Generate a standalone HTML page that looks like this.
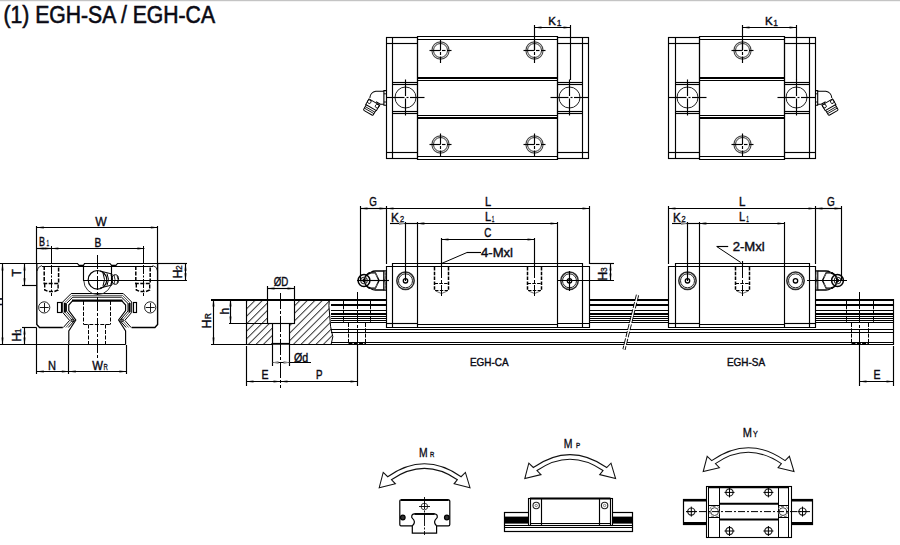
<!DOCTYPE html>
<html><head><meta charset="utf-8"><style>
html,body{margin:0;padding:0;background:#fff;width:900px;height:545px;overflow:hidden}
svg{display:block}
</style></head><body>
<svg width="900" height="545" viewBox="0 0 900 545">
<rect x="0" y="0" width="900" height="1.2" fill="#c4c4c4"/>
<text x="3.5" y="22.9" font-size="23" text-anchor="start" font-family="'Liberation Sans', sans-serif" fill="#0a0a14" stroke="#0a0a14" stroke-width="0.6" textLength="211.5" lengthAdjust="spacingAndGlyphs">(1) EGH-SA / EGH-CA</text>
<line x1="386" y1="37.5" x2="418" y2="37.5" stroke="#000" stroke-width="1.15"/>
<line x1="386" y1="158.5" x2="418" y2="158.5" stroke="#000" stroke-width="1.15"/>
<line x1="386.5" y1="37" x2="386.5" y2="159" stroke="#000" stroke-width="1.15"/>
<line x1="417.5" y1="37" x2="417.5" y2="159" stroke="#000" stroke-width="1.15"/>
<line x1="392.5" y1="37" x2="392.5" y2="159" stroke="#000" stroke-width="1.15"/>
<line x1="386" y1="43.5" x2="417" y2="43.5" stroke="#000" stroke-width="1.15"/>
<line x1="386" y1="152.5" x2="417" y2="152.5" stroke="#000" stroke-width="1.15"/>
<line x1="392" y1="82.5" x2="417" y2="82.5" stroke="#000" stroke-width="1.15"/>
<line x1="392" y1="84.5" x2="417" y2="84.5" stroke="#000" stroke-width="1.15"/>
<line x1="392" y1="111.5" x2="417" y2="111.5" stroke="#000" stroke-width="1.15"/>
<line x1="392" y1="113.5" x2="417" y2="113.5" stroke="#000" stroke-width="1.15"/>
<line x1="557" y1="37.5" x2="589" y2="37.5" stroke="#000" stroke-width="1.15"/>
<line x1="557" y1="158.5" x2="589" y2="158.5" stroke="#000" stroke-width="1.15"/>
<line x1="557.5" y1="37" x2="557.5" y2="159" stroke="#000" stroke-width="1.15"/>
<line x1="588.5" y1="37" x2="588.5" y2="159" stroke="#000" stroke-width="1.15"/>
<line x1="582.5" y1="37" x2="582.5" y2="159" stroke="#000" stroke-width="1.15"/>
<line x1="557" y1="43.5" x2="588" y2="43.5" stroke="#000" stroke-width="1.15"/>
<line x1="557" y1="152.5" x2="588" y2="152.5" stroke="#000" stroke-width="1.15"/>
<line x1="557" y1="82.5" x2="582" y2="82.5" stroke="#000" stroke-width="1.15"/>
<line x1="557" y1="84.5" x2="582" y2="84.5" stroke="#000" stroke-width="1.15"/>
<line x1="557" y1="111.5" x2="582" y2="111.5" stroke="#000" stroke-width="1.15"/>
<line x1="557" y1="113.5" x2="582" y2="113.5" stroke="#000" stroke-width="1.15"/>
<line x1="417" y1="36.5" x2="558" y2="36.5" stroke="#000" stroke-width="1.15"/>
<line x1="417" y1="159.5" x2="558" y2="159.5" stroke="#000" stroke-width="1.15"/>
<line x1="417.5" y1="36" x2="417.5" y2="160" stroke="#000" stroke-width="1.15"/>
<line x1="557.5" y1="36" x2="557.5" y2="160" stroke="#000" stroke-width="1.15"/>
<line x1="417" y1="39.5" x2="557" y2="39.5" stroke="#000" stroke-width="1.15"/>
<line x1="417" y1="156.5" x2="557" y2="156.5" stroke="#000" stroke-width="1.15"/>
<line x1="417" y1="78" x2="557" y2="78" stroke="#000" stroke-width="2.0"/>
<line x1="417" y1="80.5" x2="557" y2="80.5" stroke="#000" stroke-width="1.15"/>
<line x1="417" y1="115.5" x2="557" y2="115.5" stroke="#000" stroke-width="1.15"/>
<line x1="417" y1="118" x2="557" y2="118" stroke="#000" stroke-width="2.0"/>
<circle cx="440.5" cy="50.5" r="8.6" fill="none" stroke="#444" stroke-width="1.1"/>
<circle cx="440.5" cy="50.5" r="7" fill="none" stroke="#333" stroke-width="1.0"/>
<line x1="429.5" y1="50.5" x2="440.5" y2="50.5" stroke="#000" stroke-width="1.15"/>
<line x1="442" y1="50.5" x2="445.5" y2="50.5" stroke="#000" stroke-width="1.15"/>
<line x1="447" y1="50.5" x2="451.5" y2="50.5" stroke="#000" stroke-width="1.15"/>
<line x1="440.5" y1="39.5" x2="440.5" y2="50.5" stroke="#000" stroke-width="1.15"/>
<line x1="440.5" y1="52" x2="440.5" y2="55" stroke="#000" stroke-width="1.15"/>
<line x1="440.5" y1="56.5" x2="440.5" y2="63" stroke="#000" stroke-width="1.15"/>
<circle cx="440.5" cy="144.5" r="8.6" fill="none" stroke="#444" stroke-width="1.1"/>
<circle cx="440.5" cy="144.5" r="7" fill="none" stroke="#333" stroke-width="1.0"/>
<line x1="429.5" y1="144.5" x2="440.5" y2="144.5" stroke="#000" stroke-width="1.15"/>
<line x1="442" y1="144.5" x2="445.5" y2="144.5" stroke="#000" stroke-width="1.15"/>
<line x1="447" y1="144.5" x2="451.5" y2="144.5" stroke="#000" stroke-width="1.15"/>
<line x1="440.5" y1="133.5" x2="440.5" y2="144.5" stroke="#000" stroke-width="1.15"/>
<line x1="440.5" y1="146" x2="440.5" y2="149" stroke="#000" stroke-width="1.15"/>
<line x1="440.5" y1="150.5" x2="440.5" y2="157" stroke="#000" stroke-width="1.15"/>
<circle cx="534.5" cy="50.5" r="8.6" fill="none" stroke="#444" stroke-width="1.1"/>
<circle cx="534.5" cy="50.5" r="7" fill="none" stroke="#333" stroke-width="1.0"/>
<line x1="523.5" y1="50.5" x2="534.5" y2="50.5" stroke="#000" stroke-width="1.15"/>
<line x1="536" y1="50.5" x2="539.5" y2="50.5" stroke="#000" stroke-width="1.15"/>
<line x1="541" y1="50.5" x2="545.5" y2="50.5" stroke="#000" stroke-width="1.15"/>
<line x1="534.5" y1="39.5" x2="534.5" y2="50.5" stroke="#000" stroke-width="1.15"/>
<line x1="534.5" y1="52" x2="534.5" y2="55" stroke="#000" stroke-width="1.15"/>
<line x1="534.5" y1="56.5" x2="534.5" y2="63" stroke="#000" stroke-width="1.15"/>
<circle cx="534.5" cy="144.5" r="8.6" fill="none" stroke="#444" stroke-width="1.1"/>
<circle cx="534.5" cy="144.5" r="7" fill="none" stroke="#333" stroke-width="1.0"/>
<line x1="523.5" y1="144.5" x2="534.5" y2="144.5" stroke="#000" stroke-width="1.15"/>
<line x1="536" y1="144.5" x2="539.5" y2="144.5" stroke="#000" stroke-width="1.15"/>
<line x1="541" y1="144.5" x2="545.5" y2="144.5" stroke="#000" stroke-width="1.15"/>
<line x1="534.5" y1="133.5" x2="534.5" y2="144.5" stroke="#000" stroke-width="1.15"/>
<line x1="534.5" y1="146" x2="534.5" y2="149" stroke="#000" stroke-width="1.15"/>
<line x1="534.5" y1="150.5" x2="534.5" y2="157" stroke="#000" stroke-width="1.15"/>
<circle cx="405.5" cy="97.5" r="10.5" fill="none" stroke="#222" stroke-width="1.0"/>
<line x1="386.5" y1="97.5" x2="404.5" y2="97.5" stroke="#000" stroke-width="1.15"/>
<line x1="406.5" y1="97.5" x2="408.5" y2="97.5" stroke="#000" stroke-width="1.15"/>
<line x1="410" y1="97.5" x2="424.5" y2="97.5" stroke="#000" stroke-width="1.15"/>
<line x1="405.5" y1="79.5" x2="405.5" y2="96" stroke="#000" stroke-width="1.15"/>
<line x1="405.5" y1="98.5" x2="405.5" y2="115.5" stroke="#000" stroke-width="1.15"/>
<circle cx="569.5" cy="97.5" r="10.5" fill="none" stroke="#222" stroke-width="1.0"/>
<line x1="550.5" y1="97.5" x2="568.5" y2="97.5" stroke="#000" stroke-width="1.15"/>
<line x1="570.5" y1="97.5" x2="572.5" y2="97.5" stroke="#000" stroke-width="1.15"/>
<line x1="574" y1="97.5" x2="588.5" y2="97.5" stroke="#000" stroke-width="1.15"/>
<line x1="569.5" y1="79.5" x2="569.5" y2="96" stroke="#000" stroke-width="1.15"/>
<line x1="569.5" y1="98.5" x2="569.5" y2="115.5" stroke="#000" stroke-width="1.15"/>
<line x1="668" y1="37.5" x2="700" y2="37.5" stroke="#000" stroke-width="1.15"/>
<line x1="668" y1="158.5" x2="700" y2="158.5" stroke="#000" stroke-width="1.15"/>
<line x1="668.5" y1="37" x2="668.5" y2="159" stroke="#000" stroke-width="1.15"/>
<line x1="699.5" y1="37" x2="699.5" y2="159" stroke="#000" stroke-width="1.15"/>
<line x1="675.5" y1="37" x2="675.5" y2="159" stroke="#000" stroke-width="1.15"/>
<line x1="668" y1="43.5" x2="699" y2="43.5" stroke="#000" stroke-width="1.15"/>
<line x1="668" y1="152.5" x2="699" y2="152.5" stroke="#000" stroke-width="1.15"/>
<line x1="675" y1="82.5" x2="699" y2="82.5" stroke="#000" stroke-width="1.15"/>
<line x1="675" y1="84.5" x2="699" y2="84.5" stroke="#000" stroke-width="1.15"/>
<line x1="675" y1="111.5" x2="699" y2="111.5" stroke="#000" stroke-width="1.15"/>
<line x1="675" y1="113.5" x2="699" y2="113.5" stroke="#000" stroke-width="1.15"/>
<line x1="784" y1="37.5" x2="816" y2="37.5" stroke="#000" stroke-width="1.15"/>
<line x1="784" y1="158.5" x2="816" y2="158.5" stroke="#000" stroke-width="1.15"/>
<line x1="784.5" y1="37" x2="784.5" y2="159" stroke="#000" stroke-width="1.15"/>
<line x1="815.5" y1="37" x2="815.5" y2="159" stroke="#000" stroke-width="1.15"/>
<line x1="809.5" y1="37" x2="809.5" y2="159" stroke="#000" stroke-width="1.15"/>
<line x1="784" y1="43.5" x2="815" y2="43.5" stroke="#000" stroke-width="1.15"/>
<line x1="784" y1="152.5" x2="815" y2="152.5" stroke="#000" stroke-width="1.15"/>
<line x1="784" y1="82.5" x2="809" y2="82.5" stroke="#000" stroke-width="1.15"/>
<line x1="784" y1="84.5" x2="809" y2="84.5" stroke="#000" stroke-width="1.15"/>
<line x1="784" y1="111.5" x2="809" y2="111.5" stroke="#000" stroke-width="1.15"/>
<line x1="784" y1="113.5" x2="809" y2="113.5" stroke="#000" stroke-width="1.15"/>
<line x1="699" y1="36.5" x2="785" y2="36.5" stroke="#000" stroke-width="1.15"/>
<line x1="699" y1="159.5" x2="785" y2="159.5" stroke="#000" stroke-width="1.15"/>
<line x1="699.5" y1="36" x2="699.5" y2="160" stroke="#000" stroke-width="1.15"/>
<line x1="784.5" y1="36" x2="784.5" y2="160" stroke="#000" stroke-width="1.15"/>
<line x1="699" y1="39.5" x2="784" y2="39.5" stroke="#000" stroke-width="1.15"/>
<line x1="699" y1="156.5" x2="784" y2="156.5" stroke="#000" stroke-width="1.15"/>
<line x1="699" y1="78" x2="784" y2="78" stroke="#000" stroke-width="2.0"/>
<line x1="699" y1="80.5" x2="784" y2="80.5" stroke="#000" stroke-width="1.15"/>
<line x1="699" y1="115.5" x2="784" y2="115.5" stroke="#000" stroke-width="1.15"/>
<line x1="699" y1="118" x2="784" y2="118" stroke="#000" stroke-width="2.0"/>
<circle cx="742.5" cy="50.5" r="8.6" fill="none" stroke="#444" stroke-width="1.1"/>
<circle cx="742.5" cy="50.5" r="7" fill="none" stroke="#333" stroke-width="1.0"/>
<line x1="731.5" y1="50.5" x2="742.5" y2="50.5" stroke="#000" stroke-width="1.15"/>
<line x1="744" y1="50.5" x2="747.5" y2="50.5" stroke="#000" stroke-width="1.15"/>
<line x1="749" y1="50.5" x2="753.5" y2="50.5" stroke="#000" stroke-width="1.15"/>
<line x1="742.5" y1="39.5" x2="742.5" y2="50.5" stroke="#000" stroke-width="1.15"/>
<line x1="742.5" y1="52" x2="742.5" y2="55" stroke="#000" stroke-width="1.15"/>
<line x1="742.5" y1="56.5" x2="742.5" y2="63" stroke="#000" stroke-width="1.15"/>
<circle cx="742.5" cy="144.5" r="8.6" fill="none" stroke="#444" stroke-width="1.1"/>
<circle cx="742.5" cy="144.5" r="7" fill="none" stroke="#333" stroke-width="1.0"/>
<line x1="731.5" y1="144.5" x2="742.5" y2="144.5" stroke="#000" stroke-width="1.15"/>
<line x1="744" y1="144.5" x2="747.5" y2="144.5" stroke="#000" stroke-width="1.15"/>
<line x1="749" y1="144.5" x2="753.5" y2="144.5" stroke="#000" stroke-width="1.15"/>
<line x1="742.5" y1="133.5" x2="742.5" y2="144.5" stroke="#000" stroke-width="1.15"/>
<line x1="742.5" y1="146" x2="742.5" y2="149" stroke="#000" stroke-width="1.15"/>
<line x1="742.5" y1="150.5" x2="742.5" y2="157" stroke="#000" stroke-width="1.15"/>
<circle cx="687.5" cy="97.5" r="10.5" fill="none" stroke="#222" stroke-width="1.0"/>
<line x1="668.5" y1="97.5" x2="686.5" y2="97.5" stroke="#000" stroke-width="1.15"/>
<line x1="688.5" y1="97.5" x2="690.5" y2="97.5" stroke="#000" stroke-width="1.15"/>
<line x1="692" y1="97.5" x2="706.5" y2="97.5" stroke="#000" stroke-width="1.15"/>
<line x1="687.5" y1="79.5" x2="687.5" y2="96" stroke="#000" stroke-width="1.15"/>
<line x1="687.5" y1="98.5" x2="687.5" y2="115.5" stroke="#000" stroke-width="1.15"/>
<circle cx="796.5" cy="97.5" r="10.5" fill="none" stroke="#222" stroke-width="1.0"/>
<line x1="777.5" y1="97.5" x2="795.5" y2="97.5" stroke="#000" stroke-width="1.15"/>
<line x1="797.5" y1="97.5" x2="799.5" y2="97.5" stroke="#000" stroke-width="1.15"/>
<line x1="801" y1="97.5" x2="815.5" y2="97.5" stroke="#000" stroke-width="1.15"/>
<line x1="796.5" y1="79.5" x2="796.5" y2="96" stroke="#000" stroke-width="1.15"/>
<line x1="796.5" y1="98.5" x2="796.5" y2="115.5" stroke="#000" stroke-width="1.15"/>
<g transform="translate(386,97.5) scale(-1,1)">
<path d="M 0 -6.9 H 2.1 V 7.8 H 0" fill="none" stroke="#000" stroke-width="1.1" />
<path d="M 0 -3.7 H 2.1 M 0 4.5 H 2.1" fill="none" stroke="#000" stroke-width="0.9" />
<path d="M 2.1 -6.2 H 10.2 A 7 7 0 0 1 16.2 0.4" fill="none" stroke="#000" stroke-width="1.1" />
<path d="M 2.1 6.7 H 5.6 L 10 4.2" fill="none" stroke="#000" stroke-width="1.1" />
<g transform="translate(13.3,7.3) rotate(-30) scale(0.88)">
<path d="M -7 -3.7 H 7 V 3.7 H -7 Z" fill="none" stroke="#000" stroke-width="1.1" />
<circle cx="-5.2" cy="-1.2" r="2.1" fill="none" stroke="#000" stroke-width="1.0"/>
<circle cx="5.2" cy="-1.2" r="2.1" fill="none" stroke="#000" stroke-width="1.0"/>
<path d="M -6.3 3.7 V 9.5 Q -6.3 10.5 -5 10.5 H 5 Q 6.3 10.5 6.3 9.5 V 3.7" fill="none" stroke="#000" stroke-width="1.1" />
<path d="M -6.3 6 H 6.3 M -6.3 8 H 6.3" fill="none" stroke="#000" stroke-width="0.9" />
</g></g>
<g transform="translate(815.6,97.5) scale(1,1)">
<path d="M 0 -6.9 H 2.1 V 7.8 H 0" fill="none" stroke="#000" stroke-width="1.1" />
<path d="M 0 -3.7 H 2.1 M 0 4.5 H 2.1" fill="none" stroke="#000" stroke-width="0.9" />
<path d="M 2.1 -6.2 H 10.2 A 7 7 0 0 1 16.2 0.4" fill="none" stroke="#000" stroke-width="1.1" />
<path d="M 2.1 6.7 H 5.6 L 10 4.2" fill="none" stroke="#000" stroke-width="1.1" />
<g transform="translate(13.3,7.3) rotate(-30) scale(0.88)">
<path d="M -7 -3.7 H 7 V 3.7 H -7 Z" fill="none" stroke="#000" stroke-width="1.1" />
<circle cx="-5.2" cy="-1.2" r="2.1" fill="none" stroke="#000" stroke-width="1.0"/>
<circle cx="5.2" cy="-1.2" r="2.1" fill="none" stroke="#000" stroke-width="1.0"/>
<path d="M -6.3 3.7 V 9.5 Q -6.3 10.5 -5 10.5 H 5 Q 6.3 10.5 6.3 9.5 V 3.7" fill="none" stroke="#000" stroke-width="1.1" />
<path d="M -6.3 6 H 6.3 M -6.3 8 H 6.3" fill="none" stroke="#000" stroke-width="0.9" />
</g></g>
<polygon points="535,27.5 541.5,26 541.5,29" fill="#8c8c8c"/>
<polygon points="570,27.5 563.5,29 563.5,26" fill="#8c8c8c"/>
<line x1="534.5" y1="27.5" x2="570.5" y2="27.5" stroke="#000" stroke-width="1.15"/>
<line x1="534.5" y1="25" x2="534.5" y2="50" stroke="#000" stroke-width="1.15"/>
<line x1="570.5" y1="25" x2="570.5" y2="80" stroke="#000" stroke-width="1.15"/>
<text x="548.2" y="25.3" font-size="11.5" text-anchor="start" font-family="'Liberation Sans', sans-serif" fill="#0a0a14" stroke="#0a0a14" stroke-width="0.4">K</text>
<text x="556.8" y="26.3" font-size="8.5" text-anchor="start" font-family="'Liberation Sans', sans-serif" fill="#0a0a14" stroke="#0a0a14" stroke-width="0.3">1</text>
<polygon points="743,27.5 749.5,26 749.5,29" fill="#8c8c8c"/>
<polygon points="796,27.5 789.5,29 789.5,26" fill="#8c8c8c"/>
<line x1="742.5" y1="27.5" x2="796.5" y2="27.5" stroke="#000" stroke-width="1.15"/>
<line x1="742.5" y1="25" x2="742.5" y2="50" stroke="#000" stroke-width="1.15"/>
<line x1="796.5" y1="25" x2="796.5" y2="80" stroke="#000" stroke-width="1.15"/>
<text x="765" y="25.3" font-size="11.5" text-anchor="start" font-family="'Liberation Sans', sans-serif" fill="#0a0a14" stroke="#0a0a14" stroke-width="0.4">K</text>
<text x="773.3" y="26.3" font-size="8.5" text-anchor="start" font-family="'Liberation Sans', sans-serif" fill="#0a0a14" stroke="#0a0a14" stroke-width="0.3">1</text>
<polyline points="0,263.5 77.5,263.5 79,265.3 83.5,265.3 84.5,263.5 110,263.5 111.5,265.3 116,265.3 117.5,263.5 158,263.5" fill="none" stroke="#000" stroke-width="1.15" />
<line x1="42" y1="266.5" x2="153" y2="266.5" stroke="#000" stroke-width="1.15"/>
<path d="M 37 271 Q 37.5 266.5 42 265.5" fill="none" stroke="#333" stroke-width="1.0" />
<path d="M 157.6 271 Q 157.1 266.5 152.6 265.5" fill="none" stroke="#333" stroke-width="1.0" />
<polyline points="62.8,327.5 39.5,327.5 36.8,324.5 36.8,263.5" fill="none" stroke="#000" stroke-width="1.4" />
<polyline points="131.6,327.5 154.9,327.5 157.6,324.5 157.6,263.5" fill="none" stroke="#000" stroke-width="1.4" />
<polyline points="63.3,327.5 69.6,320.4 62.7,312.4 62.7,302 71.2,293.5 97.2,293.5" fill="none" stroke="#000" stroke-width="1.0" />
<polyline points="131.1,327.5 124.8,320.4 131.7,312.4 131.7,302 123.2,293.5 97.2,293.5" fill="none" stroke="#000" stroke-width="1.0" />
<polyline points="65.84,327.5 72.12,320.42 64.6,311.69 64.6,302.79 71.99,295.4 97.2,295.4" fill="none" stroke="#333" stroke-width="0.8" />
<polyline points="128.56,327.5 122.28,320.42 129.8,311.69 129.8,302.79 122.41,295.4 97.2,295.4" fill="none" stroke="#333" stroke-width="0.8" />
<polyline points="68.25,327.5 74.52,320.43 66.4,311.02 66.4,303.53 72.73,297.2 97.2,297.2" fill="none" stroke="#000" stroke-width="1.0" />
<polyline points="126.15,327.5 119.88,320.43 128,311.02 128,303.53 121.67,297.2 97.2,297.2" fill="none" stroke="#000" stroke-width="1.0" />
<line x1="64.9" y1="303" x2="64.9" y2="312.5" stroke="#000" stroke-width="2.0"/>
<line x1="129.5" y1="303" x2="129.5" y2="312.5" stroke="#000" stroke-width="2.0"/>
<circle cx="72.2" cy="320.3" r="1.2" fill="none" stroke="#000" stroke-width="1.0"/>
<circle cx="122.2" cy="320.3" r="1.2" fill="none" stroke="#000" stroke-width="1.0"/>
<rect x="57.5" y="302.5" width="4" height="10" fill="none" stroke="#000" stroke-width="1.15"/>
<rect x="133.5" y="302.5" width="3" height="10" fill="none" stroke="#000" stroke-width="1.15"/>
<circle cx="44.2" cy="307.4" r="5.6" fill="none" stroke="#222" stroke-width="1.0"/>
<line x1="39.7" y1="307.5" x2="48.7" y2="307.5" stroke="#000" stroke-width="0.9"/>
<line x1="44.5" y1="303" x2="44.5" y2="312" stroke="#000" stroke-width="0.9"/>
<circle cx="150.2" cy="307.4" r="5.6" fill="none" stroke="#222" stroke-width="1.0"/>
<line x1="145.7" y1="307.5" x2="154.7" y2="307.5" stroke="#000" stroke-width="0.9"/>
<line x1="150.5" y1="303" x2="150.5" y2="312" stroke="#000" stroke-width="0.9"/>
<polyline points="68.8,344.5 68.8,331 71,327.5 75.8,320 68.8,310.5 68.8,305 72.5,300.8 97.2,300.8" fill="none" stroke="#000" stroke-width="1.15" />
<polyline points="125.6,344.5 125.6,331 123.4,327.5 118.6,320 125.6,310.5 125.6,305 121.9,300.8 97.2,300.8" fill="none" stroke="#000" stroke-width="1.15" />
<line x1="72" y1="300.6" x2="122.4" y2="300.6" stroke="#000" stroke-width="2.0"/>
<line x1="68.8" y1="344.5" x2="125.6" y2="344.5" stroke="#000" stroke-width="1.15"/>
<line x1="83.5" y1="301" x2="83.5" y2="324.5" stroke="#000" stroke-width="1.0" stroke-dasharray="4,1.5"/>
<line x1="110.5" y1="301" x2="110.5" y2="324.5" stroke="#000" stroke-width="1.0" stroke-dasharray="4,1.5"/>
<line x1="83.8" y1="324.5" x2="110.6" y2="324.5" stroke="#000" stroke-width="1.0" stroke-dasharray="4,1.5"/>
<line x1="88.5" y1="324.5" x2="88.5" y2="344" stroke="#000" stroke-width="1.0" stroke-dasharray="4,1.5"/>
<line x1="105.5" y1="324.5" x2="105.5" y2="344" stroke="#000" stroke-width="1.0" stroke-dasharray="4,1.5"/>
<polyline points="44.2,266 44.2,283.5 58.6,283.5 58.6,266" fill="none" stroke="#000" stroke-width="1.5" stroke-dasharray="4,1.5" />
<polyline points="44.7,283.5 44.7,290 48.4,291.5 54.4,291.5 58.1,290 58.1,283.5" fill="none" stroke="#000" stroke-width="1.4" stroke-dasharray="4,1.5" />
<line x1="51.5" y1="246" x2="51.5" y2="264" stroke="#000" stroke-width="1.0"/>
<line x1="51.5" y1="265" x2="51.5" y2="296" stroke="#000" stroke-width="1.0" stroke-dasharray="9,1.5,2,1.5"/>
<polyline points="135.8,266 135.8,283.5 150.2,283.5 150.2,266" fill="none" stroke="#000" stroke-width="1.5" stroke-dasharray="4,1.5" />
<polyline points="136.3,283.5 136.3,290 140,291.5 146,291.5 149.7,290 149.7,283.5" fill="none" stroke="#000" stroke-width="1.4" stroke-dasharray="4,1.5" />
<line x1="143.5" y1="246" x2="143.5" y2="264" stroke="#000" stroke-width="1.0"/>
<line x1="143.5" y1="265" x2="143.5" y2="296" stroke="#000" stroke-width="1.0" stroke-dasharray="9,1.5,2,1.5"/>
<line x1="83.5" y1="266" x2="83.5" y2="280.5" stroke="#000" stroke-width="1.15"/>
<line x1="111.5" y1="266" x2="111.5" y2="280.5" stroke="#000" stroke-width="1.15"/>
<path d="M 83.8 280.5 A 14 14 0 0 0 111.8 280.5" fill="none" stroke="#333" stroke-width="1.0" />
<circle cx="97.5" cy="279.8" r="9.3" fill="none" stroke="#000" stroke-width="1.2"/>
<path d="M 103 273 Q 106 279.5 103 286 M 107 273.5 Q 110 279.5 107 285.5 M 111 274.5 Q 113.5 279.5 111 284.5" fill="none" stroke="#000" stroke-width="1.0" />
<path d="M 100 271 L 112 274 L 112 285 L 100 288" fill="none" stroke="#000" stroke-width="1.0" />
<ellipse cx="115.3" cy="279.5" rx="3.3" ry="4.8" fill="none" stroke="#000" stroke-width="1"/>
<path d="M 114 275 Q 116 279.5 114 284 M 117 275.5 Q 119 279.5 117 283.5" fill="none" stroke="#000" stroke-width="0.8" />
<line x1="97.5" y1="255" x2="97.5" y2="360" stroke="#000" stroke-width="1.0" stroke-dasharray="14,2,3,2"/>
<polygon points="37.3,227.5 43.8,226 43.8,229" fill="#8c8c8c"/>
<polygon points="157.3,227.5 150.8,229 150.8,226" fill="#8c8c8c"/>
<line x1="36.8" y1="227.5" x2="157.8" y2="227.5" stroke="#000" stroke-width="1.15"/>
<line x1="36.5" y1="226" x2="36.5" y2="264" stroke="#000" stroke-width="1.15"/>
<line x1="157.5" y1="226" x2="157.5" y2="264" stroke="#000" stroke-width="1.15"/>
<text x="101" y="225.9" font-size="12.5" text-anchor="middle" font-family="'Liberation Sans', sans-serif" fill="#0a0a14" stroke="#0a0a14" stroke-width="0.35" textLength="11.5" lengthAdjust="spacingAndGlyphs">W</text>
<polygon points="51.9,248.5 58.4,247 58.4,250" fill="#8c8c8c"/>
<polygon points="143.9,248.5 137.4,250 137.4,247" fill="#8c8c8c"/>
<line x1="51.4" y1="248.5" x2="144.4" y2="248.5" stroke="#000" stroke-width="1.15"/>
<text x="98" y="247.1" font-size="12" text-anchor="middle" font-family="'Liberation Sans', sans-serif" fill="#0a0a14" stroke="#0a0a14" stroke-width="0.35" textLength="6.8" lengthAdjust="spacingAndGlyphs">B</text>
<polygon points="37.3,248.5 43.8,247 43.8,250" fill="#8c8c8c"/>
<polygon points="50.9,248.5 44.4,250 44.4,247" fill="#8c8c8c"/>
<line x1="36.8" y1="248.5" x2="51.4" y2="248.5" stroke="#000" stroke-width="1.15"/>
<text x="39" y="246" font-size="12" text-anchor="start" font-family="'Liberation Sans', sans-serif" fill="#0a0a14" stroke="#0a0a14" stroke-width="0.4" textLength="6" lengthAdjust="spacingAndGlyphs">B</text>
<text x="46.5" y="246" font-size="8.5" text-anchor="start" font-family="'Liberation Sans', sans-serif" fill="#0a0a14" stroke="#0a0a14" stroke-width="0.3" textLength="2.6" lengthAdjust="spacingAndGlyphs">1</text>
<polygon points="24.5,264 26,270.5 23,270.5" fill="#8c8c8c"/>
<polygon points="24.5,284.8 23,278.3 26,278.3" fill="#8c8c8c"/>
<line x1="24.5" y1="263.5" x2="24.5" y2="285.3" stroke="#000" stroke-width="1.15"/>
<line x1="0" y1="263.5" x2="36.8" y2="263.5" stroke="#000" stroke-width="1.15"/>
<line x1="22" y1="285.5" x2="36.8" y2="285.5" stroke="#000" stroke-width="1.15"/>
<text x="20.6" y="276.5" font-size="12" text-anchor="start" font-family="'Liberation Sans', sans-serif" fill="#0a0a14" stroke="#0a0a14" stroke-width="0.4" transform="rotate(-90 20.6 276.5)">T</text>
<polygon points="24.5,328 26,334.5 23,334.5" fill="#8c8c8c"/>
<polygon points="24.5,344 23,337.5 26,337.5" fill="#8c8c8c"/>
<line x1="24.5" y1="327.5" x2="24.5" y2="344.5" stroke="#000" stroke-width="1.15"/>
<line x1="22" y1="327.5" x2="36.8" y2="327.5" stroke="#000" stroke-width="1.15"/>
<line x1="0" y1="344.5" x2="68.8" y2="344.5" stroke="#000" stroke-width="1.15"/>
<text x="21" y="341.5" font-size="12" text-anchor="start" font-family="'Liberation Sans', sans-serif" fill="#0a0a14" stroke="#0a0a14" stroke-width="0.4" transform="rotate(-90 21 341.5)">H</text>
<text x="21" y="333.3" font-size="8.5" text-anchor="start" font-family="'Liberation Sans', sans-serif" fill="#0a0a14" stroke="#0a0a14" stroke-width="0.3" transform="rotate(-90 21 333.3)">1</text>
<polygon points="2.5,264 4,270.5 1,270.5" fill="#8c8c8c"/>
<polygon points="2.5,344 1,337.5 4,337.5" fill="#8c8c8c"/>
<line x1="2.5" y1="263.5" x2="2.5" y2="344.5" stroke="#000" stroke-width="1.15"/>
<text x="2.2" y="306" font-size="12" text-anchor="start" font-family="'Liberation Sans', sans-serif" fill="#0a0a14" stroke="#0a0a14" stroke-width="0.4" transform="rotate(-90 2.2 306)">H</text>
<polygon points="185.5,264.3 187,270.8 184,270.8" fill="#8c8c8c"/>
<polygon points="185.5,279.8 184,273.3 187,273.3" fill="#8c8c8c"/>
<line x1="185.5" y1="263.8" x2="185.5" y2="280.3" stroke="#000" stroke-width="1.15"/>
<line x1="157.8" y1="263.5" x2="187" y2="263.5" stroke="#000" stroke-width="1.15"/>
<line x1="83" y1="280.5" x2="187" y2="280.5" stroke="#000" stroke-width="1.15"/>
<text x="181.8" y="278.2" font-size="12" text-anchor="start" font-family="'Liberation Sans', sans-serif" fill="#0a0a14" stroke="#0a0a14" stroke-width="0.4" transform="rotate(-90 181.8 278.2)">H</text>
<text x="181.8" y="270" font-size="8.5" text-anchor="start" font-family="'Liberation Sans', sans-serif" fill="#0a0a14" stroke="#0a0a14" stroke-width="0.3" transform="rotate(-90 181.8 270)">2</text>
<line x1="36.5" y1="328" x2="36.5" y2="374" stroke="#000" stroke-width="1.15"/>
<line x1="68.5" y1="345" x2="68.5" y2="374" stroke="#000" stroke-width="1.15"/>
<line x1="126.5" y1="345" x2="126.5" y2="374" stroke="#000" stroke-width="1.15"/>
<polygon points="37.3,371.5 43.8,370 43.8,373" fill="#8c8c8c"/>
<polygon points="68.3,371.5 61.8,373 61.8,370" fill="#8c8c8c"/>
<line x1="36.8" y1="371.5" x2="68.8" y2="371.5" stroke="#000" stroke-width="1.15"/>
<polygon points="69.3,371.5 75.8,370 75.8,373" fill="#8c8c8c"/>
<polygon points="125.9,371.5 119.4,373 119.4,370" fill="#8c8c8c"/>
<line x1="68.8" y1="371.5" x2="126.4" y2="371.5" stroke="#000" stroke-width="1.15"/>
<text x="52" y="370" font-size="12" text-anchor="middle" font-family="'Liberation Sans', sans-serif" fill="#0a0a14" stroke="#0a0a14" stroke-width="0.35" textLength="8" lengthAdjust="spacingAndGlyphs">N</text>
<text x="92.2" y="370" font-size="12" text-anchor="start" font-family="'Liberation Sans', sans-serif" fill="#0a0a14" stroke="#0a0a14" stroke-width="0.4" textLength="10.7" lengthAdjust="spacingAndGlyphs">W</text>
<text x="103.4" y="370" font-size="8.5" text-anchor="start" font-family="'Liberation Sans', sans-serif" fill="#0a0a14" stroke="#0a0a14" stroke-width="0.3" textLength="4.3" lengthAdjust="spacingAndGlyphs">R</text>
<defs><pattern id="hatch" patternUnits="userSpaceOnUse" width="5.3" height="5.3" patternTransform="rotate(45)"><line x1="0.5" y1="0" x2="0.5" y2="5.3" stroke="#333" stroke-width="1.0"/></pattern>
<clipPath id="secclip"><path d="M 246.5 299.5 H 267.5 V 323.5 H 272.5 V 344.5 H 246.5 Z M 289.5 344.5 V 323.5 H 294.5 V 299.5 H 329.4 L 328.9 305.6 L 330.6 326.7 L 332.8 336.7 L 331.1 344.5 Z"/></clipPath></defs>
<rect x="240" y="295" width="100" height="55" fill="url(#hatch)" clip-path="url(#secclip)"/>
<path d="M 329.4 299.5 L 328.9 305.6 L 330.6 326.7 L 332.8 336.7 L 331.1 344.5" fill="none" stroke="#000" stroke-width="1.0" />
<line x1="246.5" y1="299" x2="246.5" y2="345" stroke="#000" stroke-width="1.15"/>
<line x1="267.5" y1="299" x2="267.5" y2="324" stroke="#000" stroke-width="1.15"/>
<line x1="294.5" y1="299" x2="294.5" y2="324" stroke="#000" stroke-width="1.15"/>
<line x1="267" y1="323.5" x2="295" y2="323.5" stroke="#000" stroke-width="1.15"/>
<line x1="211" y1="300" x2="331" y2="300" stroke="#000" stroke-width="1.9"/>
<line x1="272.5" y1="343.8" x2="289.5" y2="343.8" stroke="#000" stroke-width="1.8"/>
<line x1="289" y1="344.5" x2="331" y2="344.5" stroke="#000" stroke-width="1.15"/>
<line x1="272.5" y1="323" x2="272.5" y2="345" stroke="#000" stroke-width="1.15"/>
<line x1="289.5" y1="323" x2="289.5" y2="345" stroke="#000" stroke-width="1.15"/>
<line x1="211" y1="299.5" x2="246.5" y2="299.5" stroke="#000" stroke-width="1.15"/>
<line x1="211" y1="344.5" x2="272.5" y2="344.5" stroke="#000" stroke-width="1.15"/>
<polygon points="213.5,300 215,306.5 212,306.5" fill="#8c8c8c"/>
<polygon points="213.5,344 212,337.5 215,337.5" fill="#8c8c8c"/>
<line x1="213.5" y1="299.5" x2="213.5" y2="344.5" stroke="#000" stroke-width="1.15"/>
<text x="210.6" y="328.3" font-size="12" text-anchor="start" font-family="'Liberation Sans', sans-serif" fill="#0a0a14" stroke="#0a0a14" stroke-width="0.4" transform="rotate(-90 210.6 328.3)">H</text>
<text x="210.6" y="319.3" font-size="8.5" text-anchor="start" font-family="'Liberation Sans', sans-serif" fill="#0a0a14" stroke="#0a0a14" stroke-width="0.3" transform="rotate(-90 210.6 319.3)">R</text>
<line x1="229" y1="323.5" x2="267.5" y2="323.5" stroke="#000" stroke-width="1.15"/>
<polygon points="230.5,300 232,306.5 229,306.5" fill="#8c8c8c"/>
<polygon points="230.5,323 229,316.5 232,316.5" fill="#8c8c8c"/>
<line x1="230.5" y1="299.5" x2="230.5" y2="323.5" stroke="#000" stroke-width="1.15"/>
<text x="229.2" y="314.5" font-size="12" text-anchor="start" font-family="'Liberation Sans', sans-serif" fill="#0a0a14" stroke="#0a0a14" stroke-width="0.4" transform="rotate(-90 229.2 314.5)">h</text>
<line x1="267.5" y1="286" x2="267.5" y2="299" stroke="#000" stroke-width="1.15"/>
<line x1="294.5" y1="286" x2="294.5" y2="299" stroke="#000" stroke-width="1.15"/>
<polygon points="268,288.5 274.5,287 274.5,290" fill="#8c8c8c"/>
<polygon points="294,288.5 287.5,290 287.5,287" fill="#8c8c8c"/>
<line x1="267.5" y1="288.5" x2="294.5" y2="288.5" stroke="#000" stroke-width="1.15"/>
<text x="281" y="285.8" font-size="12" text-anchor="middle" font-family="'Liberation Sans', sans-serif" fill="#0a0a14" stroke="#0a0a14" stroke-width="0.4" textLength="14.5" lengthAdjust="spacingAndGlyphs">ØD</text>
<line x1="272.5" y1="345" x2="272.5" y2="366" stroke="#000" stroke-width="1.15"/>
<line x1="289.5" y1="345" x2="289.5" y2="366" stroke="#000" stroke-width="1.15"/>
<line x1="272.5" y1="362.5" x2="311" y2="362.5" stroke="#000" stroke-width="1.15"/>
<polygon points="272,362.5 278.5,361 278.5,364" fill="#8c8c8c"/>
<polygon points="290,362.5 283.5,364 283.5,361" fill="#8c8c8c"/>
<text x="301" y="361.5" font-size="12" text-anchor="middle" font-family="'Liberation Sans', sans-serif" fill="#0a0a14" stroke="#0a0a14" stroke-width="0.4" textLength="14.2" lengthAdjust="spacingAndGlyphs">Ød</text>
<line x1="280.5" y1="293" x2="280.5" y2="388" stroke="#000" stroke-width="1.0" stroke-dasharray="16,2,3,2"/>
<line x1="246.5" y1="346" x2="246.5" y2="386" stroke="#000" stroke-width="1.15"/>
<line x1="357.5" y1="345" x2="357.5" y2="386" stroke="#000" stroke-width="1.15"/>
<polygon points="247,381.5 253.5,380 253.5,383" fill="#8c8c8c"/>
<polygon points="280,381.5 273.5,383 273.5,380" fill="#8c8c8c"/>
<line x1="246.5" y1="381.5" x2="280.5" y2="381.5" stroke="#000" stroke-width="1.15"/>
<polygon points="281,381.5 287.5,380 287.5,383" fill="#8c8c8c"/>
<polygon points="357,381.5 350.5,383 350.5,380" fill="#8c8c8c"/>
<line x1="280.5" y1="381.5" x2="357.5" y2="381.5" stroke="#000" stroke-width="1.15"/>
<text x="265" y="379" font-size="12" text-anchor="middle" font-family="'Liberation Sans', sans-serif" fill="#0a0a14" stroke="#0a0a14" stroke-width="0.4" textLength="7" lengthAdjust="spacingAndGlyphs">E</text>
<text x="319.2" y="379" font-size="12" text-anchor="middle" font-family="'Liberation Sans', sans-serif" fill="#0a0a14" stroke="#0a0a14" stroke-width="0.4" textLength="6.5" lengthAdjust="spacingAndGlyphs">P</text>
<line x1="331" y1="300" x2="386.5" y2="300" stroke="#000" stroke-width="2.0"/>
<line x1="331" y1="305" x2="386.5" y2="305" stroke="#000" stroke-width="2.0"/>
<line x1="331" y1="310.5" x2="386.5" y2="310.5" stroke="#000" stroke-width="1.15"/>
<line x1="331" y1="314" x2="386.5" y2="314" stroke="#000" stroke-width="2.0"/>
<line x1="331" y1="316.5" x2="386.5" y2="316.5" stroke="#000" stroke-width="1.15"/>
<line x1="331" y1="318.5" x2="386.5" y2="318.5" stroke="#000" stroke-width="1.15"/>
<line x1="331" y1="320.5" x2="386.5" y2="320.5" stroke="#000" stroke-width="1.15"/>
<line x1="331" y1="322.5" x2="386.5" y2="322.5" stroke="#000" stroke-width="1.15"/>
<line x1="589" y1="300" x2="668.5" y2="300" stroke="#000" stroke-width="2.0"/>
<line x1="589" y1="305" x2="668.5" y2="305" stroke="#000" stroke-width="2.0"/>
<line x1="589" y1="310.5" x2="668.5" y2="310.5" stroke="#000" stroke-width="1.15"/>
<line x1="589" y1="314" x2="668.5" y2="314" stroke="#000" stroke-width="2.0"/>
<line x1="589" y1="316.5" x2="668.5" y2="316.5" stroke="#000" stroke-width="1.15"/>
<line x1="589" y1="318.5" x2="668.5" y2="318.5" stroke="#000" stroke-width="1.15"/>
<line x1="589" y1="320.5" x2="668.5" y2="320.5" stroke="#000" stroke-width="1.15"/>
<line x1="589" y1="322.5" x2="668.5" y2="322.5" stroke="#000" stroke-width="1.15"/>
<line x1="815" y1="300" x2="893.5" y2="300" stroke="#000" stroke-width="2.0"/>
<line x1="815" y1="305" x2="893.5" y2="305" stroke="#000" stroke-width="2.0"/>
<line x1="815" y1="310.5" x2="893.5" y2="310.5" stroke="#000" stroke-width="1.15"/>
<line x1="815" y1="314" x2="893.5" y2="314" stroke="#000" stroke-width="2.0"/>
<line x1="815" y1="316.5" x2="893.5" y2="316.5" stroke="#000" stroke-width="1.15"/>
<line x1="815" y1="318.5" x2="893.5" y2="318.5" stroke="#000" stroke-width="1.15"/>
<line x1="815" y1="320.5" x2="893.5" y2="320.5" stroke="#000" stroke-width="1.15"/>
<line x1="815" y1="322.5" x2="893.5" y2="322.5" stroke="#000" stroke-width="1.15"/>
<line x1="331" y1="329.5" x2="893.5" y2="329.5" stroke="#000" stroke-width="1.15"/>
<line x1="331" y1="332.5" x2="893.5" y2="332.5" stroke="#000" stroke-width="1.15"/>
<line x1="331" y1="342.5" x2="893.5" y2="342.5" stroke="#000" stroke-width="1.15"/>
<line x1="331" y1="344.5" x2="893.5" y2="344.5" stroke="#000" stroke-width="1.15"/>
<line x1="893.5" y1="299" x2="893.5" y2="345" stroke="#000" stroke-width="1.15"/>
<line x1="343.5" y1="300" x2="343.5" y2="323" stroke="#000" stroke-width="1.0" stroke-dasharray="4,1.3"/>
<line x1="370.5" y1="300" x2="370.5" y2="323" stroke="#000" stroke-width="1.0" stroke-dasharray="4,1.3"/>
<line x1="348.5" y1="323" x2="348.5" y2="344" stroke="#000" stroke-width="1.0" stroke-dasharray="4,1.3"/>
<line x1="365.5" y1="323" x2="365.5" y2="344" stroke="#000" stroke-width="1.0" stroke-dasharray="4,1.3"/>
<line x1="357.5" y1="292" x2="357.5" y2="350" stroke="#000" stroke-width="1.0" stroke-dasharray="12,2,3,2"/>
<line x1="348.5" y1="343.5" x2="366" y2="343.5" stroke="#000" stroke-width="1.6" stroke-dasharray="4,1.3"/>
<line x1="846.5" y1="300" x2="846.5" y2="323" stroke="#000" stroke-width="1.0" stroke-dasharray="4,1.3"/>
<line x1="873.5" y1="300" x2="873.5" y2="323" stroke="#000" stroke-width="1.0" stroke-dasharray="4,1.3"/>
<line x1="851.5" y1="323" x2="851.5" y2="344" stroke="#000" stroke-width="1.0" stroke-dasharray="4,1.3"/>
<line x1="868.5" y1="323" x2="868.5" y2="344" stroke="#000" stroke-width="1.0" stroke-dasharray="4,1.3"/>
<line x1="859.5" y1="292" x2="859.5" y2="350" stroke="#000" stroke-width="1.0" stroke-dasharray="12,2,3,2"/>
<line x1="851.5" y1="343.5" x2="869" y2="343.5" stroke="#000" stroke-width="1.6" stroke-dasharray="4,1.3"/>
<path d="M 637.5 295 L 624 349.5" fill="none" stroke="#000" stroke-width="3.2" stroke-dasharray="6,1.5"/>
<path d="M 637.5 295 L 624 349.5" fill="none" stroke="#fff" stroke-width="1.4" />
<line x1="859.5" y1="345" x2="859.5" y2="386" stroke="#000" stroke-width="1.15"/>
<line x1="893.5" y1="346" x2="893.5" y2="386" stroke="#000" stroke-width="1.15"/>
<polygon points="860,381.5 866.5,380 866.5,383" fill="#8c8c8c"/>
<polygon points="893,381.5 886.5,383 886.5,380" fill="#8c8c8c"/>
<line x1="859.5" y1="381.5" x2="893.5" y2="381.5" stroke="#000" stroke-width="1.15"/>
<text x="877" y="379" font-size="12" text-anchor="middle" font-family="'Liberation Sans', sans-serif" fill="#0a0a14" stroke="#0a0a14" stroke-width="0.4" textLength="7" lengthAdjust="spacingAndGlyphs">E</text>
<rect x="386" y="263" width="204" height="65" fill="#fff"/>
<line x1="392" y1="263.5" x2="583" y2="263.5" stroke="#000" stroke-width="1.15"/>
<line x1="386" y1="266.5" x2="590" y2="266.5" stroke="#000" stroke-width="1.15"/>
<line x1="386.5" y1="266" x2="386.5" y2="328" stroke="#000" stroke-width="1.15"/>
<line x1="392.5" y1="263" x2="392.5" y2="328" stroke="#000" stroke-width="1.15"/>
<line x1="417.5" y1="263" x2="417.5" y2="328" stroke="#000" stroke-width="1.15"/>
<line x1="557.5" y1="263" x2="557.5" y2="328" stroke="#000" stroke-width="1.15"/>
<line x1="582.5" y1="263" x2="582.5" y2="328" stroke="#000" stroke-width="1.15"/>
<line x1="589.5" y1="266" x2="589.5" y2="328" stroke="#000" stroke-width="1.15"/>
<line x1="386" y1="323.5" x2="418" y2="323.5" stroke="#000" stroke-width="1.15"/>
<line x1="557" y1="323.5" x2="590" y2="323.5" stroke="#000" stroke-width="1.15"/>
<line x1="417" y1="324.5" x2="558" y2="324.5" stroke="#000" stroke-width="1.15"/>
<line x1="386" y1="327.5" x2="590" y2="327.5" stroke="#000" stroke-width="1.15"/>
<circle cx="405.5" cy="280.8" r="8.7" fill="none" stroke="#2a2a2a" stroke-width="1.5"/>
<circle cx="405.5" cy="280.8" r="7" fill="none" stroke="#222" stroke-width="1.0"/>
<circle cx="405.5" cy="280.8" r="2.2" fill="none" stroke="#000" stroke-width="1.3"/>
<circle cx="569.5" cy="280.8" r="8.7" fill="none" stroke="#2a2a2a" stroke-width="1.5"/>
<circle cx="569.5" cy="280.8" r="7" fill="none" stroke="#222" stroke-width="1.0"/>
<circle cx="569.5" cy="280.8" r="2.2" fill="none" stroke="#000" stroke-width="1.3"/>
<line x1="434.5" y1="267" x2="434.5" y2="290.5" stroke="#000" stroke-width="1.5" stroke-dasharray="3.5,1.3"/>
<line x1="448.5" y1="267" x2="448.5" y2="290.5" stroke="#000" stroke-width="1.5" stroke-dasharray="3.5,1.3"/>
<line x1="434.5" y1="283.5" x2="448.5" y2="283.5" stroke="#000" stroke-width="1.2" stroke-dasharray="3.5,1.3"/>
<line x1="435" y1="290.5" x2="448" y2="290.5" stroke="#000" stroke-width="1.2" stroke-dasharray="3.5,1.3"/>
<line x1="435.5" y1="291" x2="441.5" y2="293.5" stroke="#444" stroke-width="0.8"/>
<line x1="441.5" y1="293.5" x2="447.5" y2="291" stroke="#444" stroke-width="0.8"/>
<line x1="441.5" y1="238" x2="441.5" y2="266" stroke="#000" stroke-width="1.15"/>
<line x1="441.5" y1="266" x2="441.5" y2="296" stroke="#000" stroke-width="1.0" stroke-dasharray="12,2,3,2"/>
<line x1="527.5" y1="267" x2="527.5" y2="290.5" stroke="#000" stroke-width="1.5" stroke-dasharray="3.5,1.3"/>
<line x1="541.5" y1="267" x2="541.5" y2="290.5" stroke="#000" stroke-width="1.5" stroke-dasharray="3.5,1.3"/>
<line x1="527.5" y1="283.5" x2="541.5" y2="283.5" stroke="#000" stroke-width="1.2" stroke-dasharray="3.5,1.3"/>
<line x1="528" y1="290.5" x2="541" y2="290.5" stroke="#000" stroke-width="1.2" stroke-dasharray="3.5,1.3"/>
<line x1="528.5" y1="291" x2="534.5" y2="293.5" stroke="#444" stroke-width="0.8"/>
<line x1="534.5" y1="293.5" x2="540.5" y2="291" stroke="#444" stroke-width="0.8"/>
<line x1="534.5" y1="238" x2="534.5" y2="266" stroke="#000" stroke-width="1.15"/>
<line x1="534.5" y1="266" x2="534.5" y2="296" stroke="#000" stroke-width="1.0" stroke-dasharray="12,2,3,2"/>
<rect x="668" y="263" width="148" height="65" fill="#fff"/>
<line x1="675" y1="263.5" x2="810" y2="263.5" stroke="#000" stroke-width="1.15"/>
<line x1="668" y1="266.5" x2="816" y2="266.5" stroke="#000" stroke-width="1.15"/>
<line x1="668.5" y1="266" x2="668.5" y2="328" stroke="#000" stroke-width="1.15"/>
<line x1="675.5" y1="263" x2="675.5" y2="328" stroke="#000" stroke-width="1.15"/>
<line x1="699.5" y1="263" x2="699.5" y2="328" stroke="#000" stroke-width="1.15"/>
<line x1="784.5" y1="263" x2="784.5" y2="328" stroke="#000" stroke-width="1.15"/>
<line x1="809.5" y1="263" x2="809.5" y2="328" stroke="#000" stroke-width="1.15"/>
<line x1="815.5" y1="266" x2="815.5" y2="328" stroke="#000" stroke-width="1.15"/>
<line x1="668" y1="323.5" x2="700" y2="323.5" stroke="#000" stroke-width="1.15"/>
<line x1="784" y1="323.5" x2="816" y2="323.5" stroke="#000" stroke-width="1.15"/>
<line x1="699" y1="324.5" x2="785" y2="324.5" stroke="#000" stroke-width="1.15"/>
<line x1="668" y1="327.5" x2="816" y2="327.5" stroke="#000" stroke-width="1.15"/>
<circle cx="687.5" cy="280.8" r="8.7" fill="none" stroke="#2a2a2a" stroke-width="1.5"/>
<circle cx="687.5" cy="280.8" r="7" fill="none" stroke="#222" stroke-width="1.0"/>
<circle cx="687.5" cy="280.8" r="2.2" fill="none" stroke="#000" stroke-width="1.3"/>
<circle cx="795.5" cy="280.8" r="8.7" fill="none" stroke="#2a2a2a" stroke-width="1.5"/>
<circle cx="795.5" cy="280.8" r="7" fill="none" stroke="#222" stroke-width="1.0"/>
<circle cx="795.5" cy="280.8" r="2.2" fill="none" stroke="#000" stroke-width="1.3"/>
<line x1="735.5" y1="267" x2="735.5" y2="290.5" stroke="#000" stroke-width="1.5" stroke-dasharray="3.5,1.3"/>
<line x1="749.5" y1="267" x2="749.5" y2="290.5" stroke="#000" stroke-width="1.5" stroke-dasharray="3.5,1.3"/>
<line x1="735.5" y1="283.5" x2="749.5" y2="283.5" stroke="#000" stroke-width="1.2" stroke-dasharray="3.5,1.3"/>
<line x1="736" y1="290.5" x2="749" y2="290.5" stroke="#000" stroke-width="1.2" stroke-dasharray="3.5,1.3"/>
<line x1="736.5" y1="291" x2="742.5" y2="293.5" stroke="#444" stroke-width="0.8"/>
<line x1="742.5" y1="293.5" x2="748.5" y2="291" stroke="#444" stroke-width="0.8"/>
<line x1="742.5" y1="261" x2="742.5" y2="266" stroke="#000" stroke-width="1.15"/>
<line x1="742.5" y1="266" x2="742.5" y2="296" stroke="#000" stroke-width="1.0" stroke-dasharray="12,2,3,2"/>
<g transform="translate(386,280.5) scale(1,1)">
<path d="M 0 -9.6 H -2.3 V 9.6 H 0" fill="none" stroke="#000" stroke-width="1.1" />
<ellipse cx="-1.2" cy="-4.8" rx="0.8" ry="4.4" fill="none" stroke="#333" stroke-width="0.8"/>
<ellipse cx="-1.2" cy="4.8" rx="0.8" ry="4.4" fill="none" stroke="#333" stroke-width="0.8"/>
<path d="M -2.3 -9.5 H -10.5 Q -13 -9.5 -15 -8.2 M -2.3 9.5 H -10.5 Q -13 9.5 -15 8.2" fill="none" stroke="#000" stroke-width="1.3" />
<path d="M -17.5 -7.6 H -10.6 L -7 0 L -10.6 7.6 H -17.5" fill="none" stroke="#000" stroke-width="1.4" />
<path d="M -10.6 -7.2 L -8.3 -3 M -8.3 3 L -10.6 7.2" fill="none" stroke="#777" stroke-width="0.9" />
<path d="M -15.5 -7.6 A 7.8 7.8 0 0 0 -15.5 7.6" fill="none" stroke="#000" stroke-width="1.7" />
<circle cx="-22" cy="0" r="5.9" fill="none" stroke="#000" stroke-width="1.5"/>
<circle cx="-22" cy="0" r="3.2" fill="none" stroke="#333" stroke-width="1.1"/>
<circle cx="-22" cy="0" r="1.3" fill="#000" stroke="#000" stroke-width="1.0"/>
</g>
<g transform="translate(815.5,280.5) scale(-1,1)">
<path d="M 0 -9.6 H -2.3 V 9.6 H 0" fill="none" stroke="#000" stroke-width="1.1" />
<ellipse cx="-1.2" cy="-4.8" rx="0.8" ry="4.4" fill="none" stroke="#333" stroke-width="0.8"/>
<ellipse cx="-1.2" cy="4.8" rx="0.8" ry="4.4" fill="none" stroke="#333" stroke-width="0.8"/>
<path d="M -2.3 -9.5 H -10.5 Q -13 -9.5 -15 -8.2 M -2.3 9.5 H -10.5 Q -13 9.5 -15 8.2" fill="none" stroke="#000" stroke-width="1.3" />
<path d="M -17.5 -7.6 H -10.6 L -7 0 L -10.6 7.6 H -17.5" fill="none" stroke="#000" stroke-width="1.4" />
<path d="M -10.6 -7.2 L -8.3 -3 M -8.3 3 L -10.6 7.2" fill="none" stroke="#777" stroke-width="0.9" />
<path d="M -15.5 -7.6 A 7.8 7.8 0 0 0 -15.5 7.6" fill="none" stroke="#000" stroke-width="1.7" />
<circle cx="-22" cy="0" r="5.9" fill="none" stroke="#000" stroke-width="1.5"/>
<circle cx="-22" cy="0" r="3.2" fill="none" stroke="#333" stroke-width="1.1"/>
<circle cx="-22" cy="0" r="1.3" fill="#000" stroke="#000" stroke-width="1.0"/>
</g>
<line x1="357" y1="280.5" x2="389" y2="280.5" stroke="#000" stroke-width="1.15"/>
<line x1="807" y1="280.5" x2="847" y2="280.5" stroke="#000" stroke-width="1.15"/>
<line x1="360.5" y1="206" x2="360.5" y2="281" stroke="#000" stroke-width="1.15"/>
<line x1="386.5" y1="206" x2="386.5" y2="264" stroke="#000" stroke-width="1.15"/>
<line x1="589.5" y1="206" x2="589.5" y2="264" stroke="#000" stroke-width="1.15"/>
<polygon points="361,208.5 367.5,207 367.5,210" fill="#8c8c8c"/>
<polygon points="386,208.5 379.5,210 379.5,207" fill="#8c8c8c"/>
<line x1="360.5" y1="208.5" x2="386.5" y2="208.5" stroke="#000" stroke-width="1.15"/>
<polygon points="387,208.5 393.5,207 393.5,210" fill="#8c8c8c"/>
<polygon points="589,208.5 582.5,210 582.5,207" fill="#8c8c8c"/>
<line x1="386.5" y1="208.5" x2="589.5" y2="208.5" stroke="#000" stroke-width="1.15"/>
<text x="373" y="205.6" font-size="12" text-anchor="middle" font-family="'Liberation Sans', sans-serif" fill="#0a0a14" stroke="#0a0a14" stroke-width="0.4" textLength="7.6" lengthAdjust="spacingAndGlyphs">G</text>
<text x="488" y="205.8" font-size="12" text-anchor="middle" font-family="'Liberation Sans', sans-serif" fill="#0a0a14" stroke="#0a0a14" stroke-width="0.4" textLength="6.1" lengthAdjust="spacingAndGlyphs">L</text>
<line x1="405.5" y1="222" x2="405.5" y2="281" stroke="#000" stroke-width="1.15"/>
<line x1="417.5" y1="222" x2="417.5" y2="264" stroke="#000" stroke-width="1.15"/>
<line x1="557.5" y1="222" x2="557.5" y2="264" stroke="#000" stroke-width="1.15"/>
<line x1="390" y1="223.5" x2="417.5" y2="223.5" stroke="#000" stroke-width="1.15"/>
<polygon points="405.5,223.5 399,225 399,222" fill="#8c8c8c"/>
<polygon points="417.5,223.5 424,222 424,225" fill="#8c8c8c"/>
<polygon points="418,223.5 424.5,222 424.5,225" fill="#8c8c8c"/>
<polygon points="557,223.5 550.5,225 550.5,222" fill="#8c8c8c"/>
<line x1="417.5" y1="223.5" x2="557.5" y2="223.5" stroke="#000" stroke-width="1.15"/>
<text x="391.1" y="222" font-size="12" text-anchor="start" font-family="'Liberation Sans', sans-serif" fill="#0a0a14" stroke="#0a0a14" stroke-width="0.4" textLength="7.8" lengthAdjust="spacingAndGlyphs">K</text>
<text x="400" y="222" font-size="8.5" text-anchor="start" font-family="'Liberation Sans', sans-serif" fill="#0a0a14" stroke="#0a0a14" stroke-width="0.3" textLength="4.2" lengthAdjust="spacingAndGlyphs">2</text>
<text x="485" y="220.9" font-size="12" text-anchor="start" font-family="'Liberation Sans', sans-serif" fill="#0a0a14" stroke="#0a0a14" stroke-width="0.4" textLength="6.1" lengthAdjust="spacingAndGlyphs">L</text>
<text x="491.8" y="221.7" font-size="8.5" text-anchor="start" font-family="'Liberation Sans', sans-serif" fill="#0a0a14" stroke="#0a0a14" stroke-width="0.3" textLength="2.6" lengthAdjust="spacingAndGlyphs">1</text>
<polygon points="442,239.5 448.5,238 448.5,241" fill="#8c8c8c"/>
<polygon points="534,239.5 527.5,241 527.5,238" fill="#8c8c8c"/>
<line x1="441.5" y1="239.5" x2="534.5" y2="239.5" stroke="#000" stroke-width="1.15"/>
<text x="487.7" y="236.7" font-size="12" text-anchor="middle" font-family="'Liberation Sans', sans-serif" fill="#0a0a14" stroke="#0a0a14" stroke-width="0.4" textLength="7.1" lengthAdjust="spacingAndGlyphs">C</text>
<line x1="441.5" y1="263.5" x2="467" y2="252.5" stroke="#000" stroke-width="1.0"/>
<line x1="467" y1="252.5" x2="481" y2="252.5" stroke="#000" stroke-width="1.15"/>
<text x="481" y="256.8" font-size="12" text-anchor="start" font-family="'Liberation Sans', sans-serif" fill="#0a0a14" stroke="#0a0a14" stroke-width="0.4" textLength="32" lengthAdjust="spacingAndGlyphs">4-Mxl</text>
<line x1="589" y1="263.5" x2="614" y2="263.5" stroke="#000" stroke-width="1.15"/>
<line x1="557" y1="280.5" x2="614" y2="280.5" stroke="#000" stroke-width="1.15"/>
<line x1="569.5" y1="271" x2="569.5" y2="291" stroke="#000" stroke-width="1.15"/>
<polygon points="610.5,264 612,270.5 609,270.5" fill="#8c8c8c"/>
<polygon points="610.5,280 609,273.5 612,273.5" fill="#8c8c8c"/>
<line x1="610.5" y1="263.5" x2="610.5" y2="280.5" stroke="#000" stroke-width="1.15"/>
<text x="607.3" y="280.4" font-size="12" text-anchor="start" font-family="'Liberation Sans', sans-serif" fill="#0a0a14" stroke="#0a0a14" stroke-width="0.4" transform="rotate(-90 607.3 280.4)">H</text>
<text x="607.3" y="272" font-size="8.5" text-anchor="start" font-family="'Liberation Sans', sans-serif" fill="#0a0a14" stroke="#0a0a14" stroke-width="0.3" transform="rotate(-90 607.3 272)">3</text>
<line x1="668.5" y1="206" x2="668.5" y2="264" stroke="#000" stroke-width="1.15"/>
<line x1="815.5" y1="206" x2="815.5" y2="264" stroke="#000" stroke-width="1.15"/>
<line x1="841.5" y1="206" x2="841.5" y2="281" stroke="#000" stroke-width="1.15"/>
<polygon points="669,208.5 675.5,207 675.5,210" fill="#8c8c8c"/>
<polygon points="815,208.5 808.5,210 808.5,207" fill="#8c8c8c"/>
<line x1="668.5" y1="208.5" x2="815.5" y2="208.5" stroke="#000" stroke-width="1.15"/>
<polygon points="816,208.5 822.5,207 822.5,210" fill="#8c8c8c"/>
<polygon points="841,208.5 834.5,210 834.5,207" fill="#8c8c8c"/>
<line x1="815.5" y1="208.5" x2="841.5" y2="208.5" stroke="#000" stroke-width="1.15"/>
<text x="742.3" y="205.8" font-size="12" text-anchor="middle" font-family="'Liberation Sans', sans-serif" fill="#0a0a14" stroke="#0a0a14" stroke-width="0.4" textLength="6.4" lengthAdjust="spacingAndGlyphs">L</text>
<text x="831" y="205.6" font-size="12" text-anchor="middle" font-family="'Liberation Sans', sans-serif" fill="#0a0a14" stroke="#0a0a14" stroke-width="0.4" textLength="7.8" lengthAdjust="spacingAndGlyphs">G</text>
<line x1="687.5" y1="222" x2="687.5" y2="281" stroke="#000" stroke-width="1.15"/>
<line x1="699.5" y1="222" x2="699.5" y2="264" stroke="#000" stroke-width="1.15"/>
<line x1="784.5" y1="222" x2="784.5" y2="264" stroke="#000" stroke-width="1.15"/>
<line x1="672" y1="223.5" x2="699.5" y2="223.5" stroke="#000" stroke-width="1.15"/>
<polygon points="687.5,223.5 681,225 681,222" fill="#8c8c8c"/>
<polygon points="699.5,223.5 706,222 706,225" fill="#8c8c8c"/>
<polygon points="700,223.5 706.5,222 706.5,225" fill="#8c8c8c"/>
<polygon points="784,223.5 777.5,225 777.5,222" fill="#8c8c8c"/>
<line x1="699.5" y1="223.5" x2="784.5" y2="223.5" stroke="#000" stroke-width="1.15"/>
<text x="673.1" y="222" font-size="12" text-anchor="start" font-family="'Liberation Sans', sans-serif" fill="#0a0a14" stroke="#0a0a14" stroke-width="0.4" textLength="7.8" lengthAdjust="spacingAndGlyphs">K</text>
<text x="681.6" y="222" font-size="8.5" text-anchor="start" font-family="'Liberation Sans', sans-serif" fill="#0a0a14" stroke="#0a0a14" stroke-width="0.3" textLength="4.2" lengthAdjust="spacingAndGlyphs">2</text>
<text x="739.1" y="220.9" font-size="12" text-anchor="start" font-family="'Liberation Sans', sans-serif" fill="#0a0a14" stroke="#0a0a14" stroke-width="0.4" textLength="6.1" lengthAdjust="spacingAndGlyphs">L</text>
<text x="746.3" y="221.7" font-size="8.5" text-anchor="start" font-family="'Liberation Sans', sans-serif" fill="#0a0a14" stroke="#0a0a14" stroke-width="0.3" textLength="2.6" lengthAdjust="spacingAndGlyphs">1</text>
<line x1="716.7" y1="246.5" x2="740.8" y2="262.5" stroke="#000" stroke-width="1.0"/>
<line x1="716.7" y1="246.5" x2="728.2" y2="246.5" stroke="#000" stroke-width="1.15"/>
<text x="732.7" y="250.5" font-size="12" text-anchor="start" font-family="'Liberation Sans', sans-serif" fill="#0a0a14" stroke="#0a0a14" stroke-width="0.4" textLength="32.1" lengthAdjust="spacingAndGlyphs">2-Mxl</text>
<text x="489.3" y="366.2" font-size="10.5" text-anchor="middle" font-family="'Liberation Sans', sans-serif" fill="#0a0a14" stroke="#0a0a14" stroke-width="0.4" textLength="38.6" lengthAdjust="spacingAndGlyphs">EGH-CA</text>
<text x="746" y="366.2" font-size="10.5" text-anchor="middle" font-family="'Liberation Sans', sans-serif" fill="#0a0a14" stroke="#0a0a14" stroke-width="0.4" textLength="38.2" lengthAdjust="spacingAndGlyphs">EGH-SA</text>
<g transform="translate(0,0)"><path d="M 383.2 472.4 L 387.7 476.7 Q 424.4 450.9 461.1 476.7 L 465.4 472.4 L 470 487.7 L 454.1 483.8 L 457.4 479.7 Q 424.4 457.1 391.4 479.7 L 395.4 483.8 L 379.2 487.7 Z" fill="#fff" stroke="#111" stroke-width="1.05" stroke-linejoin="miter"/></g>
<g transform="translate(145.6,-9.2)"><path d="M 383.2 472.4 L 387.7 476.7 Q 424.4 450.9 461.1 476.7 L 465.4 472.4 L 470 487.7 L 454.1 483.8 L 457.4 479.7 Q 424.4 457.1 391.4 479.7 L 395.4 483.8 L 379.2 487.7 Z" fill="#fff" stroke="#111" stroke-width="1.05" stroke-linejoin="miter"/></g>
<g transform="translate(324,-16.1)"><path d="M 383.2 472.4 L 387.7 476.7 Q 424.4 450.9 461.1 476.7 L 465.4 472.4 L 470 487.7 L 454.1 483.8 L 457.4 479.7 Q 424.4 457.1 391.4 479.7 L 395.4 483.8 L 379.2 487.7 Z" fill="#fff" stroke="#111" stroke-width="1.05" stroke-linejoin="miter"/></g>
<text x="418.9" y="456.5" font-size="12" text-anchor="start" font-family="'Liberation Sans', sans-serif" fill="#0a0a14" stroke="#0a0a14" stroke-width="0.3" textLength="8.6" lengthAdjust="spacingAndGlyphs">M</text>
<text x="429.9" y="456.5" font-size="8" text-anchor="start" font-family="'Liberation Sans', sans-serif" fill="#0a0a14" stroke="#0a0a14" stroke-width="0.35" textLength="4.3" lengthAdjust="spacingAndGlyphs">R</text>
<text x="563.8" y="448" font-size="12" text-anchor="start" font-family="'Liberation Sans', sans-serif" fill="#0a0a14" stroke="#0a0a14" stroke-width="0.3" textLength="8.7" lengthAdjust="spacingAndGlyphs">M</text>
<text x="576" y="448" font-size="8" text-anchor="start" font-family="'Liberation Sans', sans-serif" fill="#0a0a14" stroke="#0a0a14" stroke-width="0.35" textLength="4.2" lengthAdjust="spacingAndGlyphs">P</text>
<text x="742.8" y="437.2" font-size="12" text-anchor="start" font-family="'Liberation Sans', sans-serif" fill="#0a0a14" stroke="#0a0a14" stroke-width="0.3" textLength="9.2" lengthAdjust="spacingAndGlyphs">M</text>
<text x="753" y="437.2" font-size="8.5" text-anchor="start" font-family="'Liberation Sans', sans-serif" fill="#0a0a14" stroke="#0a0a14" stroke-width="0.3" textLength="4.8" lengthAdjust="spacingAndGlyphs">Y</text>
<path d="M 399.8 501 Q 399.8 499.8 401 499.8 H 448.5 Q 449.8 499.8 449.8 501 V 524.5 Q 449.8 525.8 448.5 525.8 H 436.6 V 533.2 H 412.3 V 525.8 H 401 Q 399.8 525.8 399.8 524.5 Z" fill="none" stroke="#000" stroke-width="1.2" />
<line x1="401" y1="499.9" x2="448.5" y2="499.9" stroke="#000" stroke-width="2.0"/>
<path d="M 412.3 525.8 Q 415.5 523 413.8 520 L 411.8 517.5 Q 411.2 514 414.6 513.8 H 434.5 Q 437.8 514 437.2 517.5 L 435.2 520 Q 433.5 523 436.6 525.8" fill="none" stroke="#000" stroke-width="1.2" />
<line x1="414.6" y1="514" x2="434.5" y2="514" stroke="#000" stroke-width="1.8"/>
<circle cx="424.4" cy="506.5" r="3.3" fill="none" stroke="#333" stroke-width="0.9"/>
<line x1="419" y1="506.5" x2="430" y2="506.5" stroke="#000" stroke-width="0.9"/>
<line x1="424.5" y1="497" x2="424.5" y2="535" stroke="#000" stroke-width="0.9" stroke-dasharray="12,1.5,2,1.5"/>
<circle cx="402.8" cy="517.5" r="2.3" fill="#333" stroke="#000" stroke-width="1.2"/>
<circle cx="446.8" cy="517.5" r="2.3" fill="#333" stroke="#000" stroke-width="1.2"/>
<rect x="504.5" y="512.5" width="128" height="19" fill="none" stroke="#000" stroke-width="1.2"/>
<rect x="504.5" y="516.6" width="127.5" height="7" fill="#000"/>
<line x1="504" y1="525.5" x2="632.5" y2="525.5" stroke="#000" stroke-width="1.0"/>
<line x1="504" y1="527.5" x2="632.5" y2="527.5" stroke="#000" stroke-width="1.0"/>
<rect x="528" y="498" width="85" height="28" fill="#fff"/>
<rect x="528.5" y="498.5" width="84" height="27" fill="none" stroke="#000" stroke-width="1.1"/>
<line x1="530" y1="498.6" x2="610.5" y2="498.6" stroke="#000" stroke-width="2.0"/>
<line x1="530.5" y1="498" x2="530.5" y2="526" stroke="#000" stroke-width="1.15"/>
<line x1="610.5" y1="498" x2="610.5" y2="526" stroke="#000" stroke-width="1.15"/>
<line x1="541.5" y1="498" x2="541.5" y2="526" stroke="#000" stroke-width="1.15"/>
<line x1="599.5" y1="498" x2="599.5" y2="526" stroke="#000" stroke-width="1.15"/>
<line x1="530" y1="523.5" x2="541.5" y2="523.5" stroke="#000" stroke-width="1.0"/>
<line x1="599.5" y1="523.5" x2="611" y2="523.5" stroke="#000" stroke-width="1.0"/>
<line x1="541.5" y1="523.5" x2="599.5" y2="523.5" stroke="#000" stroke-width="1.0"/>
<circle cx="536.2" cy="505.5" r="3.2" fill="none" stroke="#222" stroke-width="1.1"/>
<circle cx="536.2" cy="505.5" r="1.2" fill="none" stroke="#666" stroke-width="0.8"/>
<circle cx="604.6" cy="505.5" r="3.2" fill="none" stroke="#222" stroke-width="1.1"/>
<circle cx="604.6" cy="505.5" r="1.2" fill="none" stroke="#666" stroke-width="0.8"/>
<rect x="683.5" y="499.5" width="129" height="25" fill="none" stroke="#000" stroke-width="1.2"/>
<line x1="683" y1="500.2" x2="812" y2="500.2" stroke="#000" stroke-width="2.4"/>
<line x1="683" y1="523.2" x2="812" y2="523.2" stroke="#000" stroke-width="2.4"/>
<rect x="706" y="486" width="86" height="52" fill="#fff"/>
<rect x="706.5" y="486.5" width="85" height="51" fill="none" stroke="#000" stroke-width="1.1"/>
<line x1="708.5" y1="486" x2="708.5" y2="538" stroke="#000" stroke-width="1.0"/>
<line x1="788.5" y1="486" x2="788.5" y2="538" stroke="#000" stroke-width="1.0"/>
<line x1="719.5" y1="486" x2="719.5" y2="538" stroke="#000" stroke-width="1.0"/>
<line x1="778.5" y1="486" x2="778.5" y2="538" stroke="#000" stroke-width="1.0"/>
<line x1="708.9" y1="487.2" x2="788.8" y2="487.2" stroke="#000" stroke-width="2.0"/>
<line x1="719.3" y1="503.8" x2="778.4" y2="503.8" stroke="#000" stroke-width="2.0"/>
<line x1="719.3" y1="519.6" x2="778.4" y2="519.6" stroke="#000" stroke-width="2.0"/>
<line x1="708.9" y1="505.5" x2="719.3" y2="505.5" stroke="#000" stroke-width="1.0"/>
<line x1="708.9" y1="517.5" x2="719.3" y2="517.5" stroke="#000" stroke-width="1.0"/>
<line x1="778.4" y1="505.5" x2="788.8" y2="505.5" stroke="#000" stroke-width="1.0"/>
<line x1="778.4" y1="517.5" x2="788.8" y2="517.5" stroke="#000" stroke-width="1.0"/>
<circle cx="729.5" cy="492.4" r="3.6" fill="none" stroke="#222" stroke-width="1.2"/>
<line x1="724.5" y1="492.4" x2="734.5" y2="492.4" stroke="#000" stroke-width="1.0"/>
<line x1="729.5" y1="487.4" x2="729.5" y2="497.4" stroke="#000" stroke-width="1.0"/>
<circle cx="768.4" cy="492.4" r="3.6" fill="none" stroke="#222" stroke-width="1.2"/>
<line x1="763.4" y1="492.4" x2="773.4" y2="492.4" stroke="#000" stroke-width="1.0"/>
<line x1="768.4" y1="487.4" x2="768.4" y2="497.4" stroke="#000" stroke-width="1.0"/>
<circle cx="729.5" cy="531" r="3.6" fill="none" stroke="#222" stroke-width="1.2"/>
<line x1="724.5" y1="531" x2="734.5" y2="531" stroke="#000" stroke-width="1.0"/>
<line x1="729.5" y1="526" x2="729.5" y2="536" stroke="#000" stroke-width="1.0"/>
<circle cx="768.4" cy="531" r="3.6" fill="none" stroke="#222" stroke-width="1.2"/>
<line x1="763.4" y1="531" x2="773.4" y2="531" stroke="#000" stroke-width="1.0"/>
<line x1="768.4" y1="526" x2="768.4" y2="536" stroke="#000" stroke-width="1.0"/>
<circle cx="691.3" cy="511.6" r="3.6" fill="none" stroke="#222" stroke-width="1.2"/>
<line x1="686.3" y1="511.6" x2="696.3" y2="511.6" stroke="#000" stroke-width="1.0"/>
<line x1="691.3" y1="506.6" x2="691.3" y2="516.6" stroke="#000" stroke-width="1.0"/>
<circle cx="802.5" cy="511.6" r="3.6" fill="none" stroke="#222" stroke-width="1.2"/>
<line x1="797.5" y1="511.6" x2="807.5" y2="511.6" stroke="#000" stroke-width="1.0"/>
<line x1="802.5" y1="506.6" x2="802.5" y2="516.6" stroke="#000" stroke-width="1.0"/>
<circle cx="714.6" cy="511.6" r="3.9" fill="none" stroke="#444" stroke-width="1.0"/>
<circle cx="783" cy="511.6" r="3.9" fill="none" stroke="#444" stroke-width="1.0"/>
<rect x="710" y="506.5" width="9.3" height="10" rx="2.5" fill="none" stroke="#555" stroke-width="0.8" stroke-dasharray="3,2"/>
<rect x="778.4" y="506.5" width="9.3" height="10" rx="2.5" fill="none" stroke="#555" stroke-width="0.8" stroke-dasharray="3,2"/>
<line x1="686" y1="511.6" x2="810" y2="511.6" stroke="#000" stroke-width="1.0" stroke-dasharray="7,2,2,2"/>
</svg></body></html>
